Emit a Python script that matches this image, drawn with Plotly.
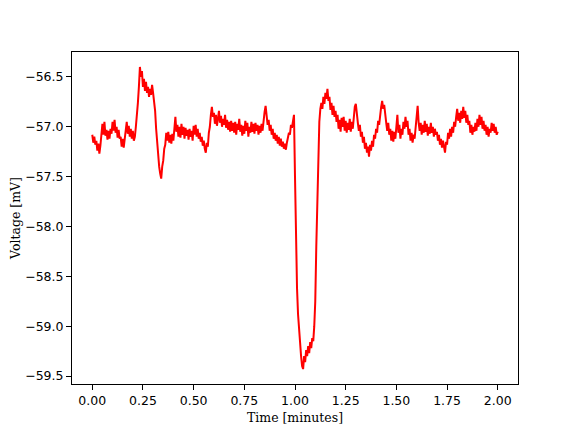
import numpy as np
import plotly.graph_objects as go

# sample grid: 0.005 min steps from 0 to 2 min
time_min = np.round(np.arange(401) * 0.005, 3)

voltage_mv = [
    # 0.000 - 0.095
    -57.08, -57.16, -57.10, -57.18, -57.14, -57.24, -57.17, -57.27, -57.19, -57.10,
    -56.97, -57.08, -56.95, -57.09, -57.03, -57.13, -57.04, -57.12, -57.02, -57.07,
    # 0.100 - 0.195
    -56.95, -57.04, -56.93, -57.06, -57.00, -57.11, -57.03, -57.12, -57.10, -57.20,
    -57.12, -57.21, -57.10, -57.00, -56.95, -57.07, -56.99, -57.10, -57.02, -57.12,
    # 0.200 - 0.295
    -57.04, -57.14, -57.10, -57.00, -56.90, -56.76, -56.60, -56.40, -56.50, -56.44,
    -56.60, -56.52, -56.64, -56.55, -56.66, -56.60, -56.70, -56.62, -56.68, -56.58,
    # 0.300 - 0.395
    -56.66, -56.76, -56.84, -57.02, -57.18, -57.32, -57.40, -57.47, -57.52, -57.40,
    -57.34, -57.22, -57.18, -57.06, -57.14, -57.05, -57.16, -57.08, -57.17, -57.07,
    # 0.400 - 0.495
    -57.14, -57.02, -56.90, -57.05, -56.98, -57.10, -57.00, -57.11, -56.97, -57.08,
    -57.00, -57.12, -57.01, -57.09, -57.03, -57.13, -57.02, -57.10, -57.04, -57.14,
    # 0.500 - 0.595
    -56.99, -57.08, -56.98, -57.10, -57.02, -57.12, -57.06, -57.15, -57.10, -57.19,
    -57.14, -57.22, -57.26, -57.16, -57.20, -57.06, -57.00, -56.88, -56.80, -56.90,
    # 0.600 - 0.695
    -56.86, -56.97, -56.88, -56.99, -56.90, -56.84, -56.96, -56.89, -57.00, -56.92,
    -56.98, -56.88, -57.01, -56.93, -57.03, -56.95, -57.05, -56.94, -57.04, -56.96,
    # 0.700 - 0.795
    -57.06, -56.95, -57.08, -56.97, -57.03, -56.92, -57.05, -56.98, -57.09, -56.99,
    -57.07, -56.94, -57.04, -56.96, -57.10, -57.00, -57.06, -56.95, -57.05, -56.97,
    # 0.800 - 0.895
    -57.07, -56.96, -57.04, -56.98, -57.08, -56.99, -57.06, -56.97, -57.04, -56.92,
    -56.85, -56.79, -56.92, -56.98, -56.93, -57.04, -56.98, -57.08, -57.02, -57.12,
    # 0.900 - 0.995
    -57.06, -57.14, -57.08, -57.17, -57.10, -57.19, -57.12, -57.20, -57.15, -57.22,
    -57.17, -57.23, -57.16, -57.12, -57.06, -57.08, -56.98, -57.01, -56.92, -56.88,
    # 1.000 - 1.095
    -57.50, -58.20, -58.62, -58.88, -59.05, -59.20, -59.30, -59.40, -59.43, -59.30,
    -59.36, -59.24, -59.30, -59.20, -59.27, -59.16, -59.22, -59.12, -59.15, -59.00,
    # 1.100 - 1.195
    -58.75, -58.20, -57.65, -57.25, -56.95, -56.82, -56.76, -56.82, -56.70, -56.77,
    -56.66, -56.72, -56.62, -56.74, -56.70, -56.83, -56.76, -56.88, -56.79, -56.90,
    # 1.200 - 1.295
    -56.84, -56.95, -56.88, -57.02, -56.93, -57.05, -56.91, -57.00, -56.90, -57.04,
    -56.94, -57.06, -56.96, -57.03, -56.92, -57.05, -56.95, -57.02, -56.88, -56.80,
    # 1.300 - 1.395
    -56.77, -56.90, -56.96, -57.04, -56.98, -57.10, -57.05, -57.16, -57.10, -57.22,
    -57.16, -57.26, -57.20, -57.30, -57.18, -57.24, -57.14, -57.20, -57.08, -57.12,
    # 1.400 - 1.495
    -57.02, -57.06, -56.94, -56.98, -56.86, -56.80, -56.74, -56.82, -56.78, -56.92,
    -56.96, -57.04, -56.96, -57.08, -57.02, -57.14, -57.04, -57.15, -57.05, -57.12,
    # 1.500 - 1.595
    -57.00, -56.88, -57.06, -56.98, -57.12, -57.02, -57.08, -56.95, -57.02, -56.90,
    -57.00, -56.94, -57.08, -57.02, -57.14, -57.06, -57.16, -57.08, -57.12, -57.00,
    # 1.600 - 1.695
    -56.90, -56.79, -56.96, -57.04, -56.96, -57.08, -56.98, -57.06, -56.94, -57.05,
    -56.97, -57.09, -57.00, -57.07, -56.96, -57.06, -57.00, -57.10, -57.02, -57.08,
    # 1.700 - 1.795
    -57.05, -57.14, -57.08, -57.18, -57.12, -57.21, -57.14, -57.22, -57.26, -57.15,
    -57.18, -57.06, -57.12, -57.02, -57.10, -57.00, -57.06, -56.95, -57.00, -56.90,
    # 1.800 - 1.895
    -56.82, -56.94, -56.86, -56.96, -56.84, -56.92, -56.80, -56.91, -56.84, -56.96,
    -56.88, -56.98, -56.94, -57.06, -56.98, -57.08, -57.00, -57.05, -56.96, -57.04,
    # 1.900 - 2.000
    -56.92, -57.00, -56.88, -56.98, -56.90, -57.02, -56.94, -57.04, -56.98, -57.08,
    -57.00, -57.10, -57.02, -57.06, -56.96, -57.04, -56.97, -57.06, -57.00, -57.08,
    -57.05,
]

x_ticks = [0.0, 0.25, 0.5, 0.75, 1.0, 1.25, 1.5, 1.75, 2.0]
y_ticks = [-59.5, -59.0, -58.5, -58.0, -57.5, -57.0, -56.5]

fig = go.Figure()
fig.add_trace(go.Scatter(
    x=time_min, y=voltage_mv, mode="lines",
    line=dict(color="#ff0000", width=2),
    showlegend=False,
))

axis_common = dict(
    showline=True, linecolor="black", linewidth=1, mirror=True,
    ticks="outside", ticklen=5, tickwidth=1, tickcolor="black",
    showgrid=False, zeroline=False, automargin=False,
    tickfont=dict(family="DejaVu Sans", size=12.5, color="black"),
)

fig.update_layout(
    width=576, height=432,
    margin=dict(l=64, r=66, t=44, b=56),
    paper_bgcolor="white", plot_bgcolor="white",
    xaxis=dict(
        range=[-0.1, 2.1], tickvals=x_ticks, tickformat=".2f",
        title=dict(text="Time [minutes]", font=dict(family="DejaVu Serif", size=12.5, color="black"), standoff=6),
        **axis_common,
    ),
    yaxis=dict(
        range=[-59.58, -56.25], tickvals=y_ticks, tickformat=".1f",
        title=dict(text="Voltage [mV]", font=dict(family="DejaVu Serif", size=12.5, color="black"), standoff=10),
        **axis_common,
    ),
)

fig.write_html("out.html")
